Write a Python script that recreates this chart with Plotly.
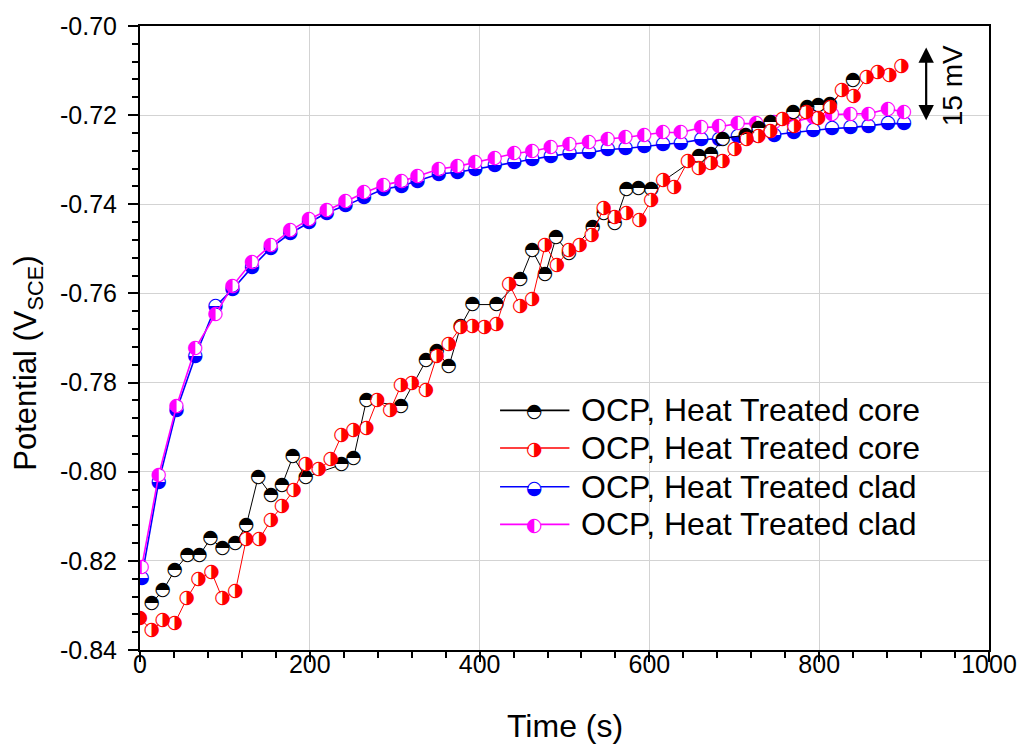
import plotly.graph_objects as go

# ---------------- data ----------------
# OCP, Heat Treated core (black)
t_core_k = [14.0, 26.9, 40.9, 56.1, 70.2, 83.0, 97.1, 112.3, 125.1, 139.2, 154.4, 167.3, 180.1, 195.3,
            237.4, 251.5, 266.7, 307.6, 336.8, 349.7, 363.7, 377.8, 391.8, 419.9, 447.9, 462.0, 477.2,
            490.1, 505.3, 533.3, 546.2, 559.1, 573.1, 587.1, 602.3, 658.5, 672.5, 686.6, 713.5, 728.7,
            742.7, 769.6, 786.0, 798.8, 812.9, 839.8]
v_core_k = [-0.8294, -0.8267, -0.8221, -0.8187, -0.8187, -0.8150, -0.8172, -0.8161, -0.8121, -0.8012,
            -0.8052, -0.8030, -0.7966, -0.8012, -0.7984, -0.7970, -0.7840, -0.7853, -0.7751, -0.7729,
            -0.7764, -0.7673, -0.7625, -0.7625, -0.7569, -0.7503, -0.7558, -0.7474, -0.7510, -0.7452,
            -0.7419, -0.7443, -0.7366, -0.7363, -0.7366, -0.7292, -0.7288, -0.7253, -0.7244, -0.7230,
            -0.7215, -0.7193, -0.7182, -0.7177, -0.7175, -0.7122]

# OCP, Heat Treated core (red)
t_core_r = [0.0, 14.0, 26.9, 40.9, 55.0, 69.0, 84.2, 97.1, 112.3, 125.1, 140.4, 154.4, 167.3, 181.3,
            195.3, 210.5, 224.6, 237.4, 251.5, 266.7, 279.5, 294.7, 307.6, 320.5, 336.8, 349.7, 363.7,
            377.8, 391.8, 405.8, 419.9, 435.1, 447.9, 462.0, 477.2, 491.2, 505.3, 518.1, 532.2, 546.2,
            559.1, 573.1, 588.3, 602.3, 616.4, 629.2, 645.6, 658.5, 672.5, 686.6, 700.6, 714.6, 728.7,
            742.7, 756.7, 770.8, 784.8, 798.8, 812.9, 826.9, 840.9, 856.1, 869.0, 883.0, 897.1]
v_core_r = [-0.8329, -0.8356, -0.8334, -0.8340, -0.8285, -0.8241, -0.8225, -0.8285, -0.8269, -0.8152,
            -0.8152, -0.8108, -0.8077, -0.8041, -0.7984, -0.7995, -0.7973, -0.7919, -0.7908, -0.7902,
            -0.7840, -0.7862, -0.7806, -0.7802, -0.7817, -0.7740, -0.7713, -0.7676, -0.7673, -0.7676,
            -0.7669, -0.7580, -0.7629, -0.7614, -0.7492, -0.7536, -0.7503, -0.7492, -0.7470, -0.7408,
            -0.7430, -0.7421, -0.7436, -0.7392, -0.7346, -0.7361, -0.7303, -0.7319, -0.7308, -0.7303,
            -0.7277, -0.7255, -0.7248, -0.7237, -0.7210, -0.7226, -0.7193, -0.7208, -0.7182, -0.7144,
            -0.7157, -0.7115, -0.7104, -0.7111, -0.7091]

# OCP, Heat Treated clad (blue / magenta) - shared marker times
t_clad = [2, 22, 43, 65, 89, 109, 132, 154, 177, 199, 220, 242, 264, 287, 308, 327, 352, 374, 395,
          418, 441, 462, 484, 506, 529, 551, 572, 594, 616, 637, 661, 682, 704, 726, 747, 770, 793,
          815, 837, 858, 881, 900]
v_clad_b = [-0.8238, -0.8023, -0.7862, -0.7742, -0.7629, -0.7591, -0.7541, -0.7498, -0.7465, -0.7441,
            -0.7419, -0.7403, -0.7385, -0.7366, -0.7359, -0.7348, -0.7332, -0.7328, -0.7321, -0.7312,
            -0.7306, -0.7299, -0.7292, -0.7286, -0.7284, -0.7277, -0.7275, -0.7270, -0.7266, -0.7262,
            -0.7255, -0.7253, -0.7248, -0.7246, -0.7244, -0.7239, -0.7235, -0.7230, -0.7228, -0.7224,
            -0.7219, -0.7219]
v_clad_m = [-0.8214, -0.8008, -0.7853, -0.7724, -0.7647, -0.7583, -0.7529, -0.7492, -0.7459, -0.7434,
            -0.7414, -0.7394, -0.7374, -0.7357, -0.7348, -0.7337, -0.7321, -0.7315, -0.7306, -0.7297,
            -0.7286, -0.7281, -0.7272, -0.7266, -0.7261, -0.7253, -0.7250, -0.7244, -0.7239, -0.7239,
            -0.7228, -0.7226, -0.7219, -0.7219, -0.7217, -0.7215, -0.7204, -0.7199, -0.7197, -0.7197,
            -0.7186, -0.7193]

series_names = ["OCP, Heat Treated core", "OCP, Heat Treated core",
                "OCP, Heat Treated clad", "OCP, Heat Treated clad"]
series_colors = ["#000000", "#ff0000", "#0000ff", "#ff00ff"]
series_glyphs = ["\u25d3", "\u25d1", "\u25d2", "\u25d0"]

x_tickvals = [0, 200, 400, 600, 800, 1000]
x_ticktext = ["0", "200", "400", "600", "800", "1000"]
y_tickvals = [-0.84, -0.82, -0.80, -0.78, -0.76, -0.74, -0.72, -0.70]
y_ticktext = ["-0.84", "-0.82", "-0.80", "-0.78", "-0.76", "-0.74", "-0.72", "-0.70"]

FONT = "Liberation Sans, Arial, sans-serif"
GLYPH_FONT = "DejaVu Sans"
GLYPH_SIZE = 19

fig = go.Figure()

def add_series(t, v, color, glyph, lw):
    fig.add_trace(go.Scatter(
        x=t, y=v, mode="lines+markers+text",
        line=dict(color=color, width=lw),
        marker=dict(symbol="circle", size=12, color="white", line=dict(width=0)),
        text=[glyph] * len(t), textposition="middle center",
        textfont=dict(family=GLYPH_FONT, size=GLYPH_SIZE, color=color),
        showlegend=False, hoverinfo="skip"))

add_series(t_clad, v_clad_b, series_colors[2], series_glyphs[2], 1.6)
add_series(t_clad, v_clad_m, series_colors[3], series_glyphs[3], 1.6)
add_series(t_core_k, v_core_k, series_colors[0], series_glyphs[0], 1.0)
add_series(t_core_r, v_core_r, series_colors[1], series_glyphs[1], 1.0)

# ---------------- custom legend ----------------
leg_rows = [0.3840, 0.3236, 0.2617, 0.2014]
shapes = []
annotations = []
for name, col, gl, yy in zip(series_names, series_colors, series_glyphs, leg_rows):
    shapes.append(dict(type="line", xref="paper", yref="paper", x0=0.4241, x1=0.5058, y0=yy, y1=yy,
                       line=dict(color=col, width=1.6)))
    shapes.append(dict(type="circle", xref="paper", yref="paper", xsizemode="pixel", ysizemode="pixel",
                       xanchor=0.4650, yanchor=yy, x0=-6, x1=6, y0=-6, y1=6,
                       fillcolor="white", line=dict(width=0)))
    annotations.append(dict(xref="paper", yref="paper", x=0.4650, y=yy, text=gl, showarrow=False,
                            xanchor="center", yanchor="middle",
                            font=dict(family=GLYPH_FONT, size=GLYPH_SIZE, color=col)))
    annotations.append(dict(xref="paper", yref="paper", x=0.5175, y=yy, text=name, showarrow=False,
                            xanchor="left", yanchor="middle",
                            font=dict(family=FONT, size=32, color="black")))

# 15 mV scale arrow
annotations.append(dict(x=926, y=-0.7048, ax=926, ay=-0.7215, xref="x", yref="y", axref="x", ayref="y",
                        text="", showarrow=True, arrowside="end+start", arrowhead=2, arrowsize=1.4,
                        arrowwidth=2.2, arrowcolor="black"))
annotations.append(dict(x=957, y=-0.7134, xref="x", yref="y", text="15 mV", textangle=-90,
                        showarrow=False, font=dict(family=FONT, size=28, color="black")))

# axis titles
annotations.append(dict(xref="paper", yref="paper", x=0.5, y=-0.1222, text="Time (s)", showarrow=False,
                        xanchor="center", yanchor="middle", font=dict(family=FONT, size=32, color="black")))
annotations.append(dict(xref="paper", yref="paper", x=-0.132, y=0.4603, text="Potential (V<sub>SCE</sub>)",
                        textangle=-90, showarrow=False, xanchor="center", yanchor="middle",
                        font=dict(family=FONT, size=31, color="black")))

axis_common = dict(showline=True, linecolor="black", linewidth=2, mirror=True,
                   ticks="outside", ticklen=10, tickwidth=2, tickcolor="black",
                   showgrid=True, gridcolor="#d3d3d3", gridwidth=1, zeroline=False,
                   tickfont=dict(family=FONT, size=25, color="black"))

fig.update_layout(
    width=1029, height=755,
    margin=dict(l=140, r=33, t=20, b=105),
    paper_bgcolor="white", plot_bgcolor="white",
    showlegend=False,
    shapes=shapes, annotations=annotations,
    xaxis=dict(range=[0, 1000], tickmode="array", tickvals=x_tickvals, ticktext=x_ticktext,
               ticklabelstandoff=-19,
               minor=dict(tick0=0, dtick=40, ticks="outside", ticklen=6, tickwidth=2, tickcolor="black",
                          showgrid=False),
               **axis_common),
    yaxis=dict(range=[-0.84, -0.70], tickmode="array", tickvals=y_tickvals, ticktext=y_ticktext,
               ticklabelstandoff=6,
               minor=dict(tick0=-0.84, dtick=0.004, ticks="outside", ticklen=6, tickwidth=2,
                          tickcolor="black", showgrid=False),
               **axis_common),
)

fig.write_html("out.html", post_script="document.body.style.margin='0';",
               config={"displayModeBar": False})
